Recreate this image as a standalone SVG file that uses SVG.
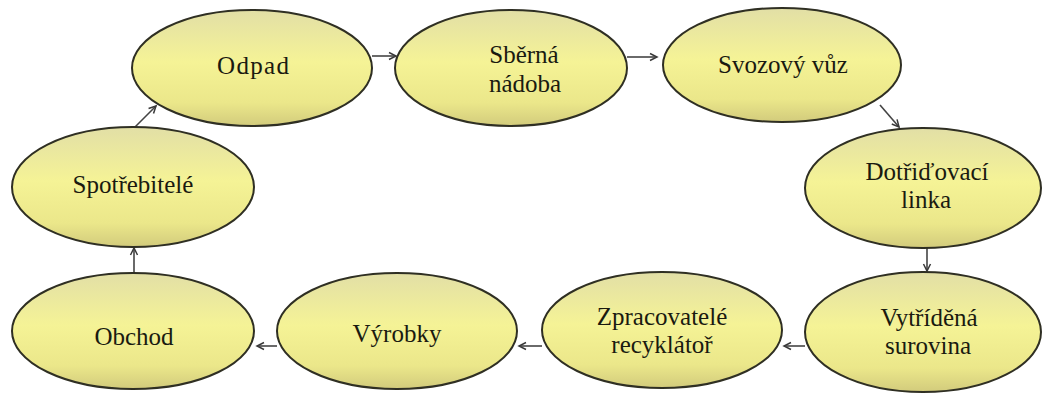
<svg xmlns="http://www.w3.org/2000/svg" width="1042" height="394" viewBox="0 0 1042 394">
<defs>
<linearGradient id="g" x1="0" y1="0" x2="0" y2="1">
<stop offset="0" stop-color="#e2dfa6"/>
<stop offset="0.45" stop-color="#f5f396"/>
<stop offset="0.8" stop-color="#ebe78a"/>
<stop offset="1" stop-color="#d2cb7c"/>
</linearGradient>
<marker id="ah" markerWidth="10" markerHeight="10" refX="8" refY="5" orient="auto" markerUnits="userSpaceOnUse">
<path d="M1,1.5 L8,5 L1,8.5" fill="none" stroke="#3a3a3a" stroke-width="1.5"/>
</marker>
<style>
.n ellipse{fill:url(#g);stroke:#2f2f23;stroke-width:2}
.n text{font-family:"Liberation Serif","Tinos","Times New Roman","Noto Serif","DejaVu Serif","Nimbus Roman",Times,serif;font-size:25px;fill:#1a1a10;text-anchor:middle}
.c line{stroke:#444;stroke-width:1.6;marker-end:url(#ah)}
</style>
</defs>
<rect width="1042" height="394" fill="#ffffff"/>
<g id="connectors" class="c">
<line x1="134" y1="128" x2="156" y2="106"/>
<line x1="372" y1="56" x2="396" y2="56"/>
<line x1="627" y1="57" x2="657" y2="57"/>
<line x1="880" y1="105" x2="899" y2="127"/>
<line x1="927" y1="248" x2="927" y2="271"/>
<line x1="805" y1="346" x2="784" y2="346"/>
<line x1="542" y1="346" x2="519" y2="346"/>
<line x1="277" y1="346" x2="257" y2="346"/>
<line x1="134" y1="273" x2="134" y2="248"/>
</g>
<g id="odpad" class="n"><ellipse cx="252" cy="68" rx="120" ry="58"/><text x="253" y="74" textLength="72">Odpad</text></g>
<g id="sberna-nadoba" class="n"><ellipse cx="511" cy="68" rx="116" ry="58"/><text x="524" y="63">Sběrná</text><text x="525" y="92">nádoba</text></g>
<g id="svozovy-vuz" class="n"><ellipse cx="782" cy="65" rx="119" ry="57"/><text x="783" y="73">Svozový vůz</text></g>
<g id="dotridovaci-linka" class="n"><ellipse cx="923" cy="188" rx="118" ry="60"/><text x="927" y="180">Dotřiďovací</text><text x="926" y="208">linka</text></g>
<g id="vytridena-surovina" class="n"><ellipse cx="923" cy="332" rx="118" ry="60"/><text x="929" y="326">Vytříděná</text><text x="928" y="354">surovina</text></g>
<g id="zpracovatele" class="n"><ellipse cx="662" cy="330" rx="120" ry="58"/><text x="662" y="325">Zpracovatelé</text><text x="662" y="353">recyklátoř</text></g>
<g id="vyrobky" class="n"><ellipse cx="397" cy="331" rx="120" ry="58"/><text x="397" y="342">Výrobky</text></g>
<g id="obchod" class="n"><ellipse cx="133" cy="331" rx="121" ry="58"/><text x="134" y="345">Obchod</text></g>
<g id="spotrebitele" class="n"><ellipse cx="133" cy="187" rx="121" ry="60"/><text x="133" y="193">Spotřebitelé</text></g>
</svg>
